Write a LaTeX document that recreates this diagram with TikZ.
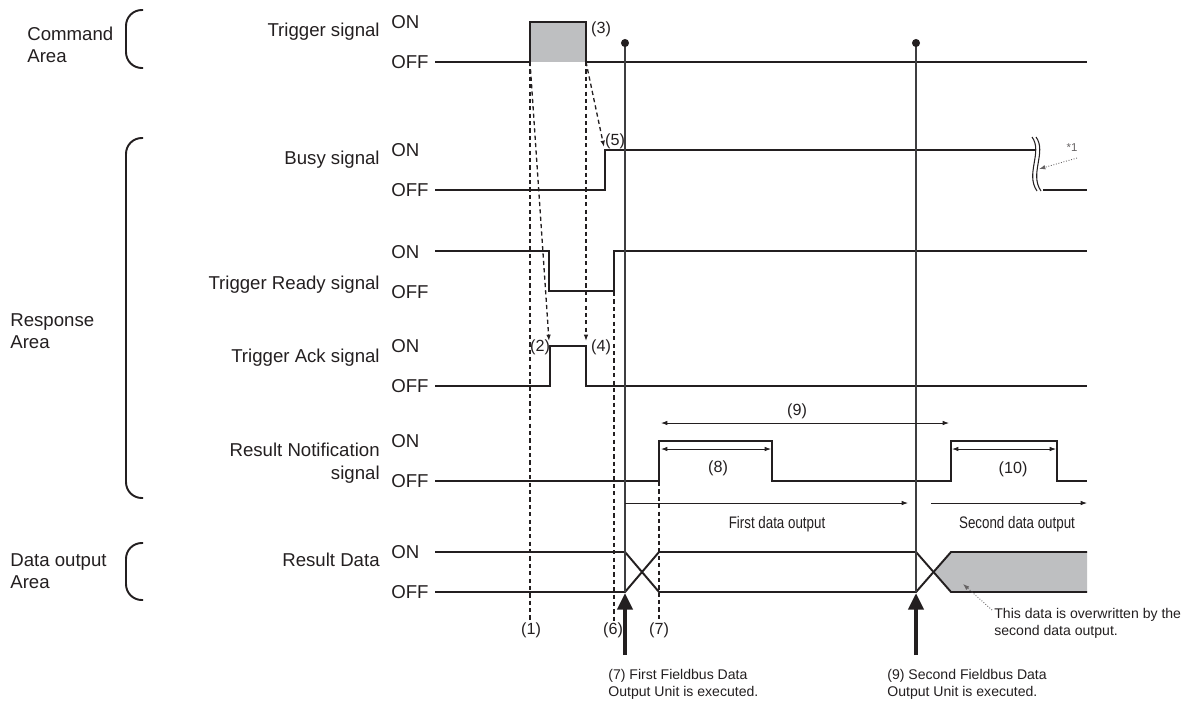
\documentclass[tikz,border=0pt]{standalone}
\usepackage{fontspec}
\setmainfont{Liberation Sans}
\newfontfamily\narrowfont[FakeStretch=0.8]{Liberation Sans}
\usepackage{xcolor}
\usetikzlibrary{arrows.meta}
\definecolor{ink}{RGB}{35,31,32}
\definecolor{rule}{RGB}{62,62,64}
\definecolor{greyfill}{RGB}{190,191,193}

\begin{document}
\begin{tikzpicture}[x=0.02cm, y=-0.02cm, >={Latex[length=3.6pt,width=2.6pt]},
    sig/.style={draw=ink, line width=1.1pt, line join=miter},
    brk/.style={draw=ink, line width=1.1pt, rounded corners=9pt},
    cue/.style={draw=ink, line width=0.75pt, dash pattern=on 2.4pt off 1.8pt},
    unitline/.style={draw=rule, line width=1.1pt},
    dim/.style={draw=ink, line width=0.5pt},
    hint/.style={draw=ink!70, line width=0.5pt, densely dotted},
    exec/.style={draw=ink, line width=2.8pt, -{Triangle[length=9.5pt,width=8.5pt]}},
    txt/.style={inner sep=0pt, text=ink, font=\fontsize{10.6}{12.8}\selectfont},
    num/.style={inner sep=0pt, text=ink, font=\fontsize{9.2}{11}\selectfont},
    note/.style={inner sep=0pt, text=ink, align=left, font=\fontsize{8}{9.6}\selectfont}]
  \useasboundingbox (0,0) rectangle (1185,700);

  % areas
  \node[txt,anchor=west,align=left] (cmdarea) at (27,45) {Command\\Area};
  \node[txt,anchor=west,align=left] (resarea) at (10,331) {Response\\Area};
  \node[txt,anchor=west,align=left] (outarea) at (10,571) {Data output\\Area};
  \draw[brk] (143,10) -- (126,10) -- (126,68) -- (143,68);
  \draw[brk] (143,138) -- (126,138) -- (126,498) -- (143,498);
  \draw[brk] (143,543) -- (126,543) -- (126,600) -- (143,600);

  % signal names
  \node[txt,anchor=east] (trigname) at (380,32) {Trigger signal};
  \node[txt,anchor=east] (busyname) at (380,160) {Busy signal};
  \node[txt,anchor=east] (readyname) at (380,285) {Trigger Ready signal};
  \node[txt,anchor=east] (ackname) at (380,358) {Trigger Ack signal};
  \node[txt,anchor=east,align=right] (notename) at (380,463) {Result Notification\\signal};
  \node[txt,anchor=east] (dataname) at (380,560) {Result Data};

  % ON / OFF levels
  \foreach \nm/\on/\off in {trig/22/62, busy/150/190, ready/252/292, ack/346/386, note/441/481, data/552/592} {
    \node[txt,anchor=west] (\nm on) at (391,\on) {ON};
    \node[txt,anchor=west] (\nm off) at (391,\off) {OFF};
  }

  % waveforms
  \fill[greyfill] (530,62) rectangle (586,22);
  \draw[sig] (435,62) -- (530,62) -- (530,22) -- (586,22) -- (586,62) -- (1087,62);
  \draw[sig] (435,190) -- (605,190) -- (605,150) -- (1036,150);
  \draw[sig] (1043,190) -- (1087,190);
  \draw[sig] (435,251) -- (549,251) -- (549,291) -- (614,291) -- (614,251) -- (1087,251);
  \draw[sig] (435,386) -- (550,386) -- (550,346) -- (586,346) -- (586,386) -- (1087,386);
  \draw[sig] (435,481) -- (659,481) -- (659,441) -- (772,441) -- (772,481) -- (951,481)
    -- (951,441) -- (1057,441) -- (1057,481) -- (1087,481);
  \fill[greyfill] (933.5,572) -- (951,552) -- (1087,552) -- (1087,592) -- (951,592) -- cycle;
  \draw[sig] (435,552) -- (625,552) -- (659,592) -- (916,592) -- (951,552) -- (1087,552);
  \draw[sig] (435,592) -- (625,592) -- (659,552) -- (916,552) -- (951,592) -- (1087,592);

  % break in busy signal
  \draw[ink, line width=0.6pt] (1032,137) .. controls (1043,152) and (1025,174) .. (1037,191);
  \draw[ink, line width=0.6pt] (1036,137) .. controls (1047,152) and (1029,174) .. (1041,191);
  \node[inner sep=0pt, text=ink!70, font=\fontsize{6.5}{7}\selectfont] (star) at (1072,148) {*1};
  \coordinate (starfoot) at (1077,158);
  \coordinate (breakpt) at (1039,169);
  \draw[hint,->] (starfoot) -- (breakpt);

  % edges
  \coordinate (trigup) at (530,62);
  \coordinate (trigdown) at (586,62);
  \coordinate (ackup) at (549,341);
  \coordinate (ackdown) at (586,341);
  \coordinate (busyup) at (604,147);
  \coordinate (readyup) at (614,292);
  \coordinate (noteup) at (659,482);

  % dashed cues
  \draw[cue] (trigup) -- (530,622);
  \draw[cue,->] (trigup) -- (ackup);
  \draw[cue,->] (trigdown) -- (ackdown);
  \draw[cue,->] (trigdown) -- (busyup);
  \draw[cue] (readyup) -- (614,622);
  \draw[cue] (noteup) -- (659,622);

  % output unit markers
  \coordinate (firstdot) at (625,43);
  \coordinate (seconddot) at (916,43);
  \draw[unitline] (firstdot) -- (625,592);
  \draw[unitline] (seconddot) -- (916,592);
  \fill[ink] (firstdot) circle (2.3pt);
  \fill[ink] (seconddot) circle (2.3pt);
  \draw[exec] (625,655) -- (625,593);
  \draw[exec] (916,655) -- (916,593);

  % numbered labels
  \node[num] (n1) at (531,630) {(1)};
  \node[num] (n2) at (540,347) {(2)};
  \node[num] (n3) at (601,29) {(3)};
  \node[num] (n4) at (601,347) {(4)};
  \node[num] (n5) at (615,141) {(5)};
  \node[num] (n6) at (613,630) {(6)};
  \node[num] (n7) at (659,630) {(7)};

  % durations
  \draw[dim,<->] (661,423) -- (949,423);
  \node[num] (n9) at (797,411) {(9)};
  \draw[dim,<->] (661,449) -- (771,449);
  \node[num] (n8) at (718,468) {(8)};
  \draw[dim,<->] (952,449) -- (1056,449);
  \node[num] (n10) at (1013,469) {(10)};

  % data output spans
  \draw[dim,->] (625,503) -- (908,503);
  \draw[dim,->] (931,503) -- (1087,503);
  \node[inner sep=0pt, text=ink, font=\narrowfont\fontsize{9.5}{11}\selectfont] (firstout) at (777,524) {First data output};
  \node[inner sep=0pt, text=ink, font=\narrowfont\fontsize{9.5}{11}\selectfont] (secondout) at (1017,524) {Second data output};

  % notes
  \node[note,anchor=west] (overwrite) at (994,623) {This data is overwritten by the\\second data output.};
  \coordinate (greyspot) at (963,584);
  \coordinate (hintstart) at (992,610);
  \draw[hint,->] (hintstart) -- (greyspot);
  \node[note,anchor=west] (firstexec) at (608,684) {(7) First Fieldbus Data\\Output Unit is executed.};
  \node[note,anchor=west] (secondexec) at (887,684) {(9) Second Fieldbus Data\\Output Unit is executed.};
\end{tikzpicture}
\end{document}
